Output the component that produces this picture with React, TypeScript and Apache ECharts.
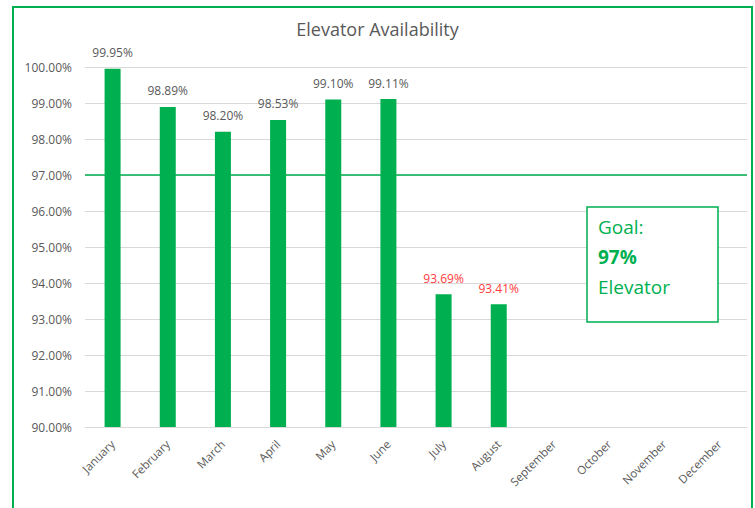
import React, { useEffect, useRef } from "react";
import * as echarts from "echarts";

const months = [
  "January", "February", "March", "April", "May", "June",
  "July", "August", "September", "October", "November", "December",
];
const availability: (number | null)[] = [99.95, 98.89, 98.2, 98.53, 99.1, 99.11, 93.69, 93.41, null, null, null, null];
const goal = 97;
const yMin = 90;
const yMax = 100;
const yStep = 1;
const goalLines = ["Goal:", "97%", "Elevator"];

const GREEN = "#00B050";
const GRAY = "#595959";
const RED = "#FF3B3B";
const FONT = "Open Sans";

export default function App() {
  const ref = useRef<HTMLDivElement>(null);
  useEffect(() => {
    document.body.style.margin = "0";
    const chart = echarts.init(ref.current!, null, { renderer: "svg" });
    chart.setOption({
      animation: false,
      backgroundColor: "#ffffff",
      title: {
        text: "Elevator Availability",
        left: "center",
        top: 15,
        textStyle: { fontFamily: FONT, fontSize: 18, fontWeight: "normal", color: GRAY },
      },
      grid: { left: 85, right: 8, top: 67, bottom: 81 },
      xAxis: {
        type: "category",
        data: months,
        axisLine: { show: false },
        axisTick: { show: false },
        axisLabel: { rotate: 45, fontFamily: FONT, fontSize: 11.5, color: GRAY, margin: 15, interval: 0 },
      },
      yAxis: {
        type: "value",
        min: yMin,
        max: yMax,
        interval: yStep,
        axisLine: { show: false },
        axisTick: { show: false },
        splitLine: { lineStyle: { color: "#D9D9D9", width: 1 } },
        axisLabel: {
          fontFamily: FONT,
          fontSize: 12,
          color: GRAY,
          margin: 13,
          formatter: (v: number) => v.toFixed(2) + "%",
        },
      },
      series: [
        {
          type: "bar",
          barWidth: 16,
          data: availability.map((v) =>
            v == null
              ? null
              : {
                  value: v,
                  label: { color: v < goal ? RED : GRAY },
                }
          ),
          itemStyle: { color: GREEN },
          label: {
            show: true,
            position: "top",
            distance: 10,
            fontFamily: FONT,
            fontSize: 12,
            formatter: (p: any) => Number(p.value).toFixed(2) + "%",
          },
          markLine: {
            silent: true,
            symbol: "none",
            label: { show: false },
            lineStyle: { color: GREEN, width: 1.5, type: "solid" },
            data: [{ yAxis: goal }],
          },
        },
      ],
      graphic: [
        {
          type: "rect",
          shape: { x: 13, y: 7, width: 739, height: 510 },
          style: { fill: "none", stroke: GREEN, lineWidth: 2 },
          silent: true,
        },
        {
          type: "rect",
          shape: { x: 587, y: 207, width: 131, height: 115 },
          style: { fill: "#ffffff", stroke: GREEN, lineWidth: 1.5 },
          z: 10,
        },
        ...goalLines.map((t, i) => ({
          type: "text",
          x: 598,
          y: 227 + i * 30,
          z: 11,
          style: {
            text: t,
            fill: GREEN,
            fontFamily: FONT,
            fontSize: 19,
            fontWeight: i === 1 ? "bold" : "normal",
            verticalAlign: "middle",
          },
        })),
      ],
    });
    return () => chart.dispose();
  }, []);
  return <div ref={ref} style={{ width: 755, height: 508 }} />;
}
